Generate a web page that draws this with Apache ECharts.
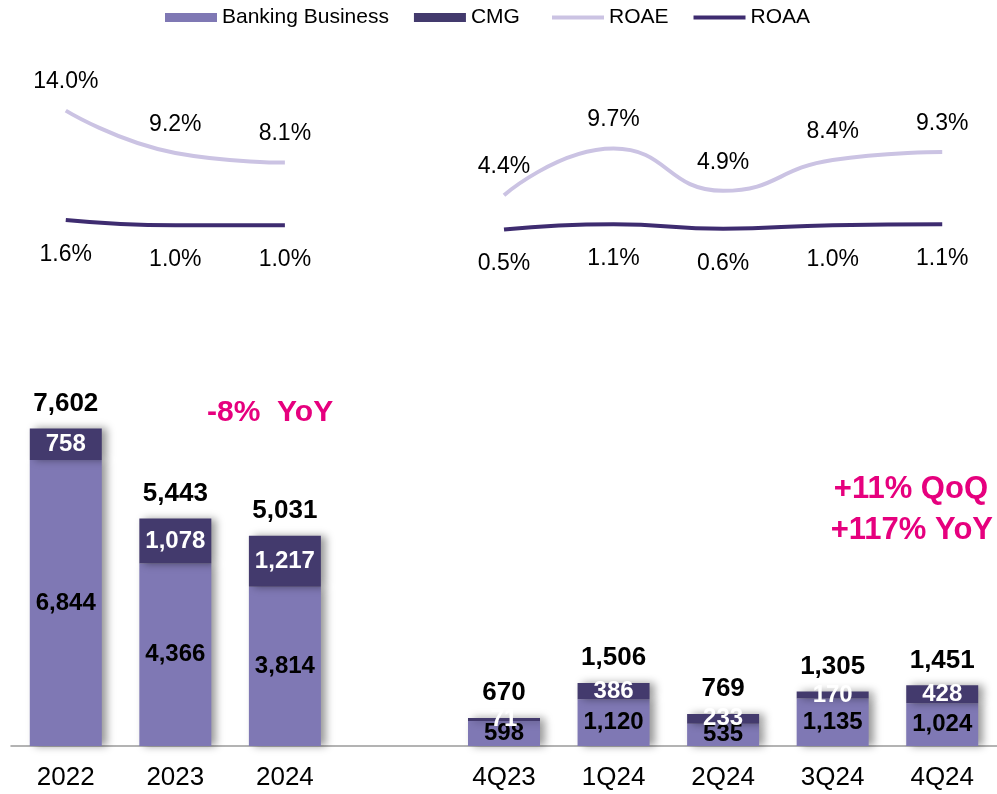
<!DOCTYPE html>
<html>
<head>
<meta charset="utf-8">
<style>
  html, body { margin: 0; padding: 0; background: #fff; }
  #main { width: 997px; height: 794px; }
</style>
<script src="https://cdn.jsdelivr.net/npm/echarts@6/dist/echarts.min.js"></script>
</head>
<body>
<div id="main"></div>
<script>
let yearCats = ["2022", "2023", "2024"];
let quarterCats = ["4Q23", "1Q24", "2Q24", "3Q24", "4Q24"];

let bankingYear = [6844, 4366, 3814];
let cmgYear = [758, 1078, 1217];
let totalYear = [7602, 5443, 5031];

let bankingQtr = [598, 1120, 535, 1135, 1024];
let cmgQtr = [71, 386, 233, 170, 428];
let totalQtr = [670, 1506, 769, 1305, 1451];

let roaeYear = [14.0, 9.2, 8.1];
let roaaYear = [1.6, 1.0, 1.0];
let roaeQtr = [4.4, 9.7, 4.9, 8.4, 9.3];
let roaaQtr = [0.5, 1.1, 0.6, 1.0, 1.1];

// one category axis, a blank slot between the annual and quarterly panels
let cats = yearCats.concat([""], quarterCats);
function yearOnly(arr) {
  return arr.concat([null], quarterCats.map(() => null));
}
function qtrOnly(arr) {
  return yearCats.map(() => null).concat([null], arr);
}
function joined(a, b) {
  return a.concat([null], b);
}

const FONT = "Liberation Sans";
const C_BANK = "#7f78b4";
const C_CMG = "#433a6d";
const C_ROAE = "#cbc3e3";
const C_ROAA = "#3e2c70";
const C_PINK = "#e6007e";

let chart = echarts.init(document.getElementById("main"), null, { renderer: "canvas" });

let fmtNum = (p) => Number(p.value).toLocaleString("en-US");
let fmtPct = (p) => Number(p.value).toFixed(1) + "%";

let barShadow = {
  shadowColor: "rgba(0,0,0,0.4)",
  shadowBlur: 8,
  shadowOffsetX: 5,
  shadowOffsetY: 0,
};

let roaeLabel = {
  show: true,
  position: "top",
  distance: 17,
  fontSize: 23,
  color: "#000",
  formatter: fmtPct,
};
let roaaLabel = {
  show: true,
  position: "bottom",
  distance: 23,
  fontSize: 23,
  color: "#000",
  formatter: fmtPct,
};

function lineSeries(name, data, color, label) {
  return {
    name: name,
    type: "line",
    xAxisIndex: 0,
    yAxisIndex: 0,
    smooth: 0.5,
    symbol: "circle",
    symbolSize: 0.1,
    showSymbol: true,
    data: data,
    lineStyle: { color: color, width: 4 },
    itemStyle: { color: color },
    label: label,
  };
}

let legendText = { fontSize: 21, color: "#000", fontFamily: FONT };

let option = {
  animation: false,
  textStyle: { fontFamily: FONT },
  legend: [
    {
      data: ["Banking Business", "CMG"],
      left: 160,
      top: 2,
      icon: "rect",
      itemWidth: 52,
      itemHeight: 9,
      itemGap: 25,
      textStyle: legendText,
    },
    {
      data: ["ROAE", "ROAA"],
      left: 547,
      top: 2,
      icon: "rect",
      itemWidth: 52,
      itemHeight: 4,
      itemGap: 25,
      textStyle: legendText,
    },
  ],
  grid: [
    { left: 11, right: -7, top: 93, bottom: 560 },
    { left: 11, right: -7, top: 370, bottom: 48 },
  ],
  xAxis: [
    {
      gridIndex: 0,
      type: "category",
      data: cats,
      show: false,
    },
    {
      gridIndex: 1,
      type: "category",
      data: cats,
      axisTick: { show: false },
      axisLine: { lineStyle: { color: "#9a9a9a", width: 1.5 } },
      axisLabel: { fontSize: 26, color: "#000", margin: 19, interval: 0 },
    },
  ],
  yAxis: [
    { gridIndex: 0, type: "value", min: 0, max: 16, show: false },
    { gridIndex: 1, type: "value", min: 0, max: 9000, show: false },
  ],
  series: [
    {
      name: "Banking Business",
      type: "bar",
      xAxisIndex: 1,
      yAxisIndex: 1,
      stack: "biz",
      barWidth: 72,
      data: joined(bankingYear, bankingQtr),
      itemStyle: Object.assign({ color: C_BANK }, barShadow),
      label: {
        show: true,
        position: "inside",
        fontSize: 24,
        fontWeight: "bold",
        color: "#000",
        formatter: fmtNum,
      },
    },
    {
      name: "CMG",
      type: "bar",
      xAxisIndex: 1,
      yAxisIndex: 1,
      stack: "biz",
      barWidth: 72,
      data: joined(cmgYear, cmgQtr),
      itemStyle: Object.assign({ color: C_CMG }, barShadow),
      label: {
        show: true,
        position: "inside",
        fontSize: 24,
        fontWeight: "bold",
        color: "#fff",
        formatter: fmtNum,
      },
    },
    {
      name: "Total",
      type: "bar",
      xAxisIndex: 1,
      yAxisIndex: 1,
      barWidth: 72,
      barGap: "-100%",
      data: joined(totalYear, totalQtr),
      itemStyle: { color: "rgba(0,0,0,0)" },
      label: {
        show: true,
        position: "top",
        distance: 12,
        fontSize: 26,
        fontWeight: "bold",
        color: "#000",
        formatter: fmtNum,
      },
      z: 1,
    },
    lineSeries("ROAE", yearOnly(roaeYear), C_ROAE, roaeLabel),
    lineSeries("ROAA", yearOnly(roaaYear), C_ROAA, roaaLabel),
    lineSeries("ROAE", qtrOnly(roaeQtr), C_ROAE, roaeLabel),
    lineSeries("ROAA", qtrOnly(roaaQtr), C_ROAA, roaaLabel),
  ],
  graphic: [
    {
      type: "text",
      x: 207,
      y: 413,
      style: {
        text: "-8%  YoY",
        fill: C_PINK,
        font: "bold 30px \"Liberation Sans\"",
        verticalAlign: "middle",
      },
    },
    {
      type: "text",
      x: 988,
      y: 489,
      style: {
        text: "+11% QoQ",
        fill: C_PINK,
        font: "bold 31px \"Liberation Sans\"",
        align: "right",
        verticalAlign: "middle",
      },
    },
    {
      type: "text",
      x: 993,
      y: 530,
      style: {
        text: "+117% YoY",
        fill: C_PINK,
        font: "bold 31px \"Liberation Sans\"",
        align: "right",
        verticalAlign: "middle",
      },
    },
  ],
};

chart.setOption(option);
</script>
</body>
</html>
